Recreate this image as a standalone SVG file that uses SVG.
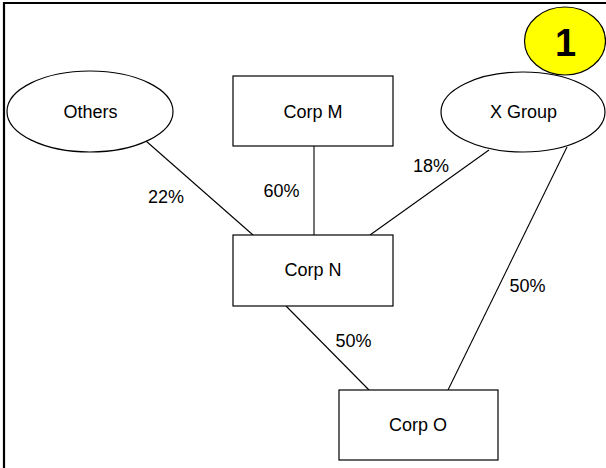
<svg xmlns="http://www.w3.org/2000/svg" width="606" height="468" viewBox="0 0 606 468">
<style>
.shape{fill:#fff;stroke:#000;stroke-width:1.2}
.lbl{font-family:"Liberation Sans",Arial,sans-serif;font-size:18px;fill:#000;text-anchor:middle}
.conn line{stroke:#000;stroke-width:1.1}
</style>
<rect width="606" height="468" fill="#fff"/>
<path d="M4 468 V3 H606" fill="none" stroke="#000" stroke-width="2.2"/>
<g class="conn" id="connectors">
<line x1="146" y1="141" x2="253" y2="235"/>
<line x1="314" y1="146" x2="314" y2="235"/>
<line x1="489" y1="150" x2="370" y2="235"/>
<line x1="567" y1="147" x2="448" y2="390"/>
<line x1="286" y1="306" x2="369" y2="390"/>
<text class="lbl" x="166" y="203">22%</text>
<text class="lbl" x="281.5" y="197">60%</text>
<text class="lbl" x="431" y="172">18%</text>
<text class="lbl" x="527.5" y="292">50%</text>
<text class="lbl" x="353.5" y="347">50%</text>
</g>
<g id="others">
<ellipse class="shape" cx="90" cy="111.5" rx="83" ry="40.5"/>
<text class="lbl" x="90.5" y="118">Others</text>
</g>
<g id="corp-m">
<rect class="shape" x="233" y="76" width="160" height="70"/>
<text class="lbl" x="313" y="118">Corp M</text>
</g>
<g id="x-group">
<ellipse class="shape" cx="523" cy="112" rx="82" ry="40"/>
<text class="lbl" x="523.5" y="118">X Group</text>
</g>
<g id="badge">
<ellipse cx="565" cy="41" rx="40.5" ry="34" fill="#ffff00" stroke="#000" stroke-width="1.2"/>
<text x="565.5" y="56" style="font-family:'Liberation Sans',Arial,sans-serif;font-size:38px;font-weight:bold;text-anchor:middle">1</text>
</g>
<g id="corp-n">
<rect class="shape" x="233" y="235" width="160" height="71"/>
<text class="lbl" x="313" y="276">Corp N</text>
</g>
<g id="corp-o">
<rect class="shape" x="339" y="390" width="159" height="70"/>
<text class="lbl" x="418" y="431">Corp O</text>
</g>
</svg>
